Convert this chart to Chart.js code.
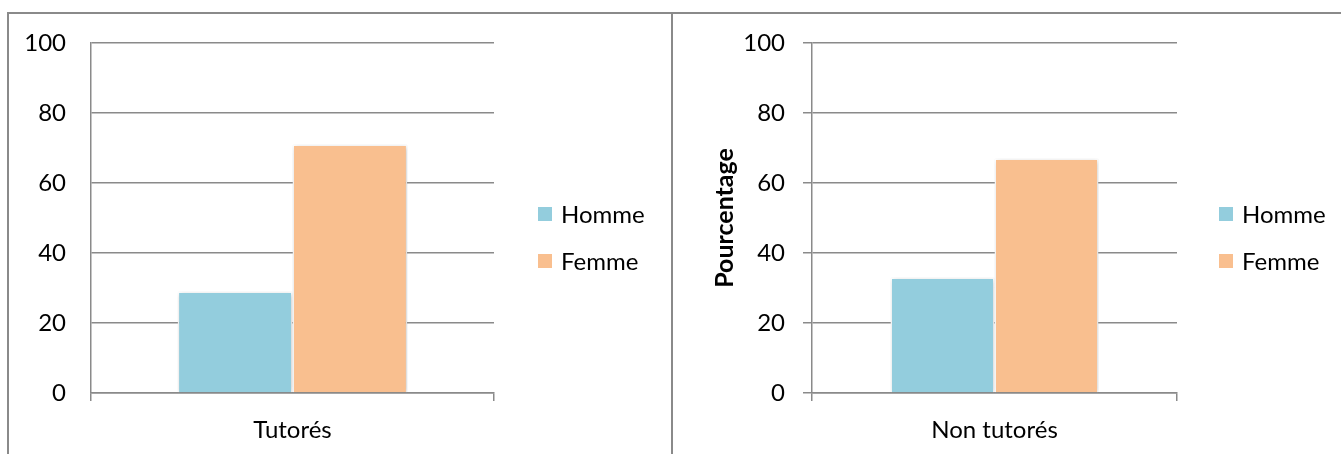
<!DOCTYPE html>
<html>
<head>
<meta charset="utf-8">
<script src="https://cdn.jsdelivr.net/npm/chart.js@4.4.0/dist/chart.umd.min.js"></script>
<style>
  html, body { margin: 0; padding: 0; background: #fff; }
  body { width: 1341px; height: 454px; position: relative; overflow: hidden; font-family: Lato, "Open Sans", sans-serif; }
  .panel { position: absolute; top: 12px; height: 442px; border-top: 2px solid #8a8a8a; border-left: 2px solid #8a8a8a; box-sizing: border-box; }
  .wrap { position: absolute; }
  .leg { position: absolute; font-size: 24px; color: #000; line-height: 1; white-space: nowrap; }
  .leg span.sw { position: absolute; width: 14px; height: 14px; left: 0; top: 50%; margin-top: -7px; }
  .leg span.tx { position: absolute; left: 23px; top: 50%; transform: translateY(-50%); }
</style>
</head>
<body>
<div class="panel" style="left:7px; width:667px;"></div>
<div class="panel" style="left:671px; width:670px;"></div>

<div class="wrap" style="left:9px; top:13px; width:662px; height:441px;"><canvas id="c1"></canvas></div>
<div class="wrap" style="left:673px; top:13px; width:668px; height:441px;"><canvas id="c2"></canvas></div>

<div id="leg1"></div>
<div id="leg2"></div>

<script>
// ---- data ----
const seriesNames = ["Homme", "Femme"];
const seriesColors = ["#93CDDD", "#F9BF8F"];
const leftCategories = ["Tutorés"];
const leftHomme = [29];
const leftFemme = [71];
const rightCategories = ["Non tutorés"];
const rightHomme = [33];
const rightFemme = [67];
const yTicks = [0, 20, 40, 60, 80, 100];
const yAxisTitle = "Pourcentage";

const FONT = "Lato";
const GRID = "#8a8a8a";

const shadowPlugin = {
  id: 'barShadow',
  beforeDatasetsDraw(chart) {
    const ctx = chart.ctx;
    ctx.save();
    ctx.shadowColor = 'rgba(0,0,0,0.22)';
    ctx.shadowBlur = 5;
    ctx.shadowOffsetX = 1;
    ctx.shadowOffsetY = 1;
  },
  afterDatasetsDraw(chart) {
    chart.ctx.restore();
  }
};

function makeChart(id, cats, homme, femme, opts) {
  const ctx = document.getElementById(id);
  return new Chart(ctx, {
    type: 'bar',
    data: {
      labels: cats,
      datasets: [
        { label: seriesNames[0], data: homme, backgroundColor: seriesColors[0], borderColor: '#ffffff', borderWidth: 1.5 },
        { label: seriesNames[1], data: femme, backgroundColor: seriesColors[1], borderColor: '#ffffff', borderWidth: 1.5 }
      ]
    },
    plugins: [shadowPlugin],
    options: {
      responsive: true,
      maintainAspectRatio: false,
      animation: false,
      events: [],
      layout: { padding: { left: 0, right: opts.padRight, top: 30, bottom: 0 } },
      datasets: { bar: { categoryPercentage: 0.57, barPercentage: 1.0 } },
      plugins: { legend: { display: false }, tooltip: { enabled: false } },
      scales: {
        x: {
          grid: { display: true, drawOnChartArea: false, drawTicks: true, tickLength: 8, color: GRID, lineWidth: 1.5, offset: true },
          border: { display: true, color: GRID, width: 1.5 },
          ticks: { color: '#000', font: { family: FONT, size: 24 }, padding: 15 },
          afterFit(s) { s.height = 61; }
        },
        y: {
          min: 0, max: 100,
          afterBuildTicks(s) { s.ticks = yTicks.map(v => ({ value: v })); },
          grid: { color: GRID, lineWidth: 1.5, drawTicks: opts.yTicksOut, tickLength: 9 },
          border: { display: true, color: GRID, width: 1.5 },
          ticks: { color: '#000', font: { family: FONT, size: 24 }, padding: opts.yPad },
          title: opts.title ? { display: true, text: yAxisTitle, color: '#000', font: { family: FONT, size: 25, weight: 'bold' }, padding: { top: opts.titlePad, bottom: 0 } } : { display: false },
          afterFit(s) { s.width = opts.yWidth; s.paddingTop = 10; s.paddingBottom = 10; }
        }
      }
    }
  });
}

makeChart('c1', leftCategories, leftHomme, leftFemme, { padRight: 177, yWidth: 82, yPad: 25, yTicksOut: false, title: false });
makeChart('c2', rightCategories, rightHomme, rightFemme, { padRight: 164, yWidth: 139, yPad: 18, yTicksOut: true, title: true, titlePad: 37 });

function buildLegend(elId, left, ys) {
  const host = document.getElementById(elId);
  seriesNames.forEach((n, i) => {
    const d = document.createElement('div');
    d.className = 'leg';
    d.style.left = left + 'px';
    d.style.top = (ys[i] - 15) + 'px';
    d.style.height = '30px';
    d.innerHTML = '<span class="sw" style="background:' + seriesColors[i] + '"></span><span class="tx">' + n + '</span>';
    host.appendChild(d);
  });
}
buildLegend('leg1', 538, [214, 261]);
buildLegend('leg2', 1219, [214, 261]);
</script>
</body>
</html>
